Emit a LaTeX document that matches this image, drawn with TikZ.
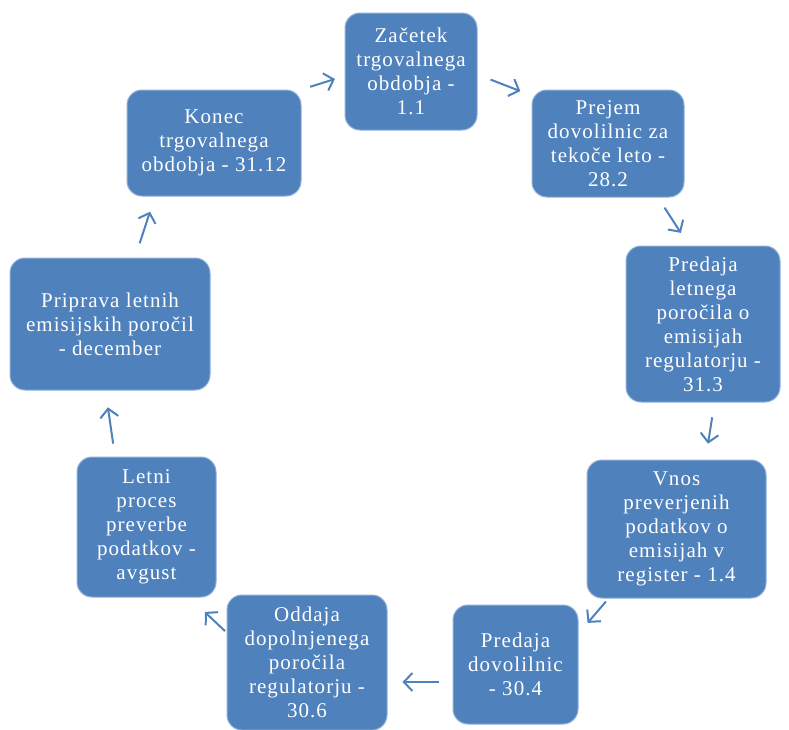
\documentclass[tikz,border=0pt]{standalone}
\usepackage{fontspec}
\setmainfont{Liberation Serif}[LetterSpace=5]
\usepackage{tikz}
\usetikzlibrary{arrows.meta,positioning}
\definecolor{stageblue}{HTML}{4F81BD}
\definecolor{stageedge}{HTML}{8FB0D8}
\tikzset{%
	stage/.style = {draw=stageedge, line width=1pt, fill=stageblue, rounded corners=15pt, text=white, align=center, inner sep=0pt, font=\fontsize{21}{24}\selectfont},
	cyc/.style   = {draw=stageblue, line width=2pt, -{Straight Barb[length=8.5pt,width=18pt]}},
}
\begin{document}
\begin{tikzpicture}[x=1pt,y=-1pt]
	\useasboundingbox (0,0) rectangle (789,729);
	\node[stage, minimum width=132pt, minimum height=117pt] (zacetek) at (411,71.5) {Začetek\\trgovalnega\\obdobja -\\1.1};
	\node[stage, minimum width=152pt, minimum height=107pt] (prejem) at (608,143.5) {Prejem\\dovolilnic za\\tekoče leto -\\28.2};
	\node[stage, minimum width=154pt, minimum height=156pt] (porocilo) at (703,324) {Predaja\\letnega\\poročila o\\emisijah\\regulatorju -\\31.3};
	\node[stage, minimum width=179pt, minimum height=138pt] (vnos) at (676.5,529) {Vnos\\preverjenih\\podatkov o\\emisijah v\\register - 1.4};
	\node[stage, minimum width=125pt, minimum height=119pt] (predaja) at (515.5,664.5) {Predaja\\dovolilnic\\- 30.4};
	\node[stage, minimum width=160pt, minimum height=135pt] (oddaja) at (307,662.5) {Oddaja\\dopolnjenega\\poročila\\regulatorju -\\30.6};
	\node[stage, minimum width=139pt, minimum height=140pt] (letni) at (146.5,527) {Letni\\proces\\preverbe\\podatkov -\\avgust};
	\node[stage, minimum width=200pt, minimum height=132pt] (priprava) at (110,324) {Priprava letnih\\emisijskih poročil\\- december};
	\node[stage, minimum width=174pt, minimum height=106pt] (konec) at (214,143) {Konec\\trgovalnega\\obdobja - 31.12};
	% arrows round the year
	\draw[cyc, shorten <=14pt, shorten >=12pt] ([yshift=-3pt]zacetek.east) -- ([yshift=-6pt]prejem.north west);
	\draw[cyc, shorten <=12pt, shorten >=15pt] ([xshift=50pt]prejem.south) -- ([xshift=-14pt]porocilo.north);
	\draw[cyc, shorten <=15pt, shorten >=16pt] ([xshift=11.5pt]porocilo.south) -- ([xshift=29pt]vnos.north);
	\draw[cyc, shorten <=4pt, shorten >=14pt] ([xshift=-68pt]vnos.south) -- ([yshift=31pt]predaja.east);
	\draw[cyc, shorten <=14pt, shorten >=15pt] ([yshift=-17.5pt]predaja.west) -- ([yshift=-19.5pt]oddaja.east);
	\draw[cyc, shorten <=2pt, shorten >=21pt] ([yshift=30pt]oddaja.west) -- ([xshift=43pt]letni.south);
	\draw[cyc, shorten <=13pt, shorten >=17pt] ([xshift=-31.5pt]letni.north) -- ([xshift=-4.5pt]priprava.south);
	\draw[cyc, shorten <=15pt, shorten >=16pt] ([xshift=25pt]priprava.north) -- ([xshift=-59pt]konec.south);
	\draw[cyc, shorten <=9pt, shorten >=10pt] (konec.north east) -- ([yshift=-4.5pt]zacetek.west);
\end{tikzpicture}
\end{document}
